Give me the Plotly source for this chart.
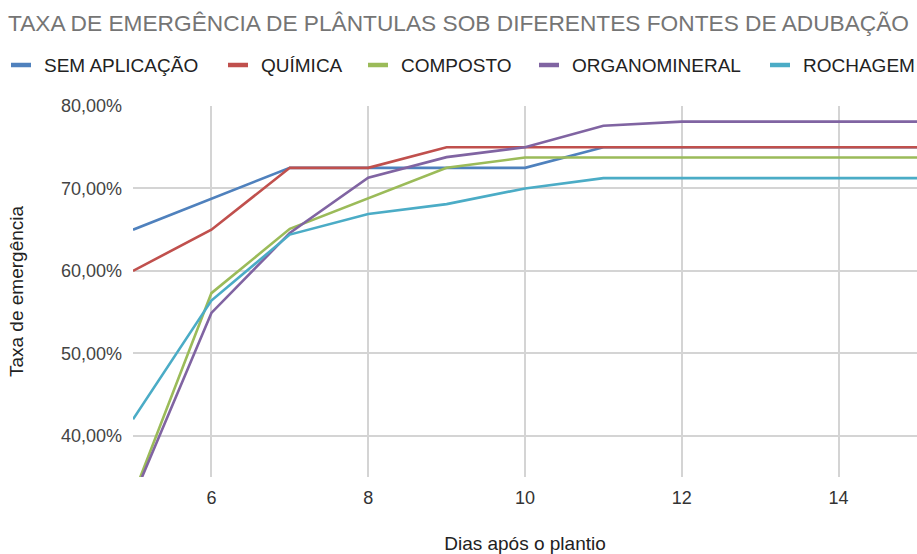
import plotly.graph_objects as go

dias = [5, 6, 7, 8, 9, 10, 11, 12, 13, 14, 15]
sem_aplicacao = [65.0, 68.75, 72.5, 72.5, 72.5, 72.5, 75.0, 75.0, 75.0, 75.0, 75.0]
quimica = [60.0, 65.0, 72.5, 72.5, 75.0, 75.0, 75.0, 75.0, 75.0, 75.0, 75.0]
composto = [32.7, 57.3, 65.1, 68.8, 72.5, 73.75, 73.75, 73.75, 73.75, 73.75, 73.75]
organomineral = [32.4, 54.9, 64.6, 71.3, 73.8, 75.0, 77.6, 78.1, 78.1, 78.1, 78.1]
rochagem = [42.0, 56.4, 64.4, 66.9, 68.1, 70.0, 71.25, 71.25, 71.25, 71.25, 71.25]

y_ticks = [40, 50, 60, 70, 80]
y_tick_text = [f"{v:.2f}".replace(".", ",") + "%" for v in y_ticks]
x_ticks = [6, 8, 10, 12, 14]

names = ["SEM APLICAÇÃO", "QUÍMICA", "COMPOSTO", "ORGANOMINERAL", "ROCHAGEM"]
values = [sem_aplicacao, quimica, composto, organomineral, rochagem]
colors = ["#4F81BD", "#C0504D", "#9BBB59", "#8064A2", "#4BACC6"]

W, H = 917, 554
ML, MR, MT, MB = 133, 0, 106, 77
PW, PH = W - ML - MR, H - MT - MB

def px_x(px):
    return (px - ML) / PW

def px_y(py):
    return (H - MB - py) / PH

fig = go.Figure()
for name, vals, color in zip(names, values, colors):
    fig.add_trace(go.Scatter(x=dias, y=vals, name=name, mode="lines",
                             line=dict(color=color, width=2.6), showlegend=False))

# custom legend (single row, like the reference)
legend_symbol_x = [11, 228, 368, 539, 770]
legend_y = 65
for name, color, sx in zip(names, colors, legend_symbol_x):
    fig.add_shape(type="line", xref="paper", yref="paper",
                  x0=px_x(sx), x1=px_x(sx + 20), y0=px_y(legend_y), y1=px_y(legend_y),
                  line=dict(color=color, width=4.5))
    fig.add_annotation(text=name, xref="paper", yref="paper",
                       x=px_x(sx + 31), y=px_y(legend_y + 1), xanchor="left", yanchor="middle",
                       showarrow=False, font=dict(size=19, color="#222222"))

fig.update_layout(
    width=W, height=H,
    margin=dict(l=ML, r=MR, t=MT, b=MB, autoexpand=False),
    paper_bgcolor="white", plot_bgcolor="white",
    font=dict(family="Arial, Liberation Sans, sans-serif", color="#444444", size=18),
    title=dict(text="TAXA DE EMERGÊNCIA DE PLÂNTULAS SOB DIFERENTES FONTES DE ADUBAÇÃO",
               x=8 / W, xanchor="left", xref="container",
               y=1 - 23 / H, yanchor="middle", yref="container",
               pad=dict(l=0, r=0, t=0, b=0),
               font=dict(size=22.7, color="#757575")),
    showlegend=False,
    xaxis=dict(range=[5, 15], tickvals=x_ticks, showgrid=True,
               gridcolor="#d4d4d4", gridwidth=1.5, zeroline=False, showline=False,
               ticks="", ticklabelstandoff=8, tickfont=dict(size=18, color="#333333"),
               title=dict(text="Dias após o plantio", font=dict(size=19, color="#222222"),
                          standoff=32)),
    yaxis=dict(range=[35, 80], tickvals=y_ticks, ticktext=y_tick_text,
               showgrid=True, gridcolor="#d4d4d4", gridwidth=1.5,
               zeroline=False, showline=False, ticks="", ticklabelstandoff=10,
               tickfont=dict(size=18, color="#444444"),
               title=dict(text="Taxa de emergência", font=dict(size=19, color="#222222"),
                          standoff=32)),
)

fig.write_html("out.html", config={"displayModeBar": False},
               post_script="document.body.style.margin='0';")
